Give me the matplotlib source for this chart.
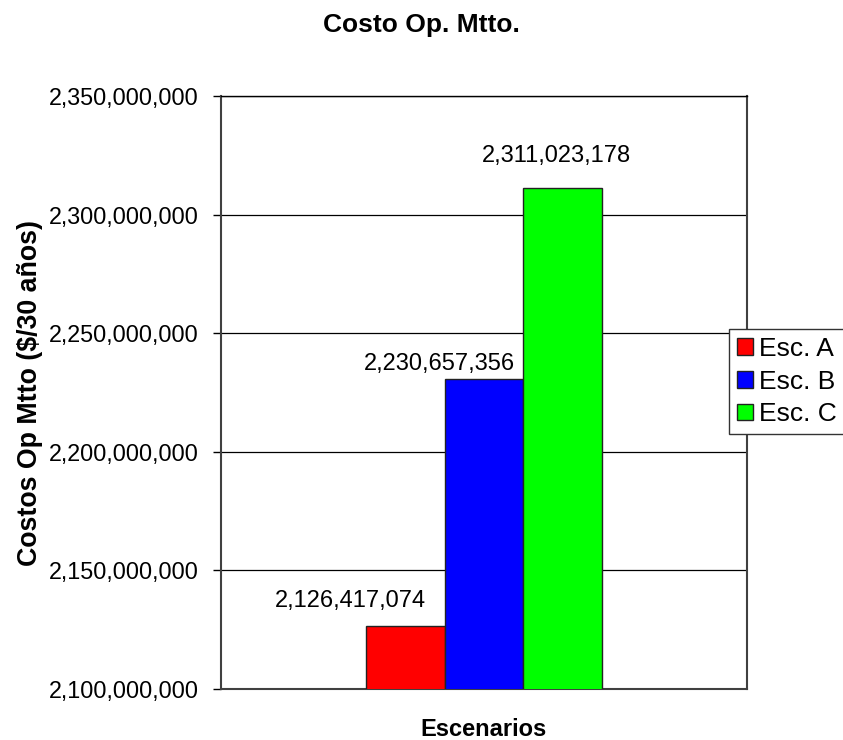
import matplotlib.pyplot as plt
from matplotlib.ticker import FuncFormatter

plt.rcParams['font.family'] = ['Liberation Sans', 'DejaVu Sans']

escenarios = ['Esc. A', 'Esc. B', 'Esc. C']
costos = [2126417074, 2230657356, 2311023178]
colores = ['#FF0000', '#0000FF', '#00FF00']
# label offsets in pixels (dx, dy) from bar top, as Excel placed them
offsets = [(-55, 19), (-45, 9), (-6, 26)]

fig = plt.figure(figsize=(8.43, 7.4), dpi=100)
ax = fig.add_axes([221/843, 1-689/740, (747-221)/843, (689-96)/740])

width = 0.15
pos = [-width, 0, width]
for i in range(3):
    ax.bar(pos[i], costos[i], width, color=colores[i], edgecolor='#222222',
           linewidth=1, label=escenarios[i], zorder=3)
    ax.annotate(f'{costos[i]:,}', (pos[i], costos[i]), xytext=offsets[i],
                textcoords='offset pixels', ha='center', va='baseline',
                fontsize=17, zorder=4)

ax.set_xlim(-0.5, 0.5)
ax.set_ylim(2100000000, 2350000000)
ax.set_yticks(range(2100000000, 2350000001, 50000000))
ax.yaxis.set_major_formatter(FuncFormatter(lambda v, p: f'{int(v):,}'))
ax.set_xticks([])
ax.tick_params(axis='y', direction='out', length=6, width=1, labelsize=16.8, pad=10)
ax.yaxis.grid(True, color='black', linewidth=0.9, zorder=0)
for s in ax.spines.values():
    s.set_color('#404040')
    s.set_linewidth(1.5)
ax.spines['top'].set_color('black')
ax.spines['top'].set_linewidth(1)

ax.set_ylabel('Costos Op Mtto ($/30 años)', fontsize=19.3, fontweight='bold', labelpad=4)
ax.set_xlabel('Escenarios', fontsize=17, fontweight='bold', labelpad=21)
fig.text(0.5, 1-32/740, 'Costo Op. Mtto.', ha='center', va='baseline',
         fontsize=19, fontweight='bold')

leg = fig.legend(loc='upper left', bbox_to_anchor=(729/843, 1-329/740),
                 fontsize=19, frameon=True, fancybox=False, framealpha=1,
                 edgecolor='#333333', handlelength=0.6, handleheight=0.6,
                 handletextpad=0.25, labelspacing=0.33, borderpad=0.3,
                 borderaxespad=0)
leg.get_frame().set_linewidth(1)

fig.savefig('out.png', dpi=100)
